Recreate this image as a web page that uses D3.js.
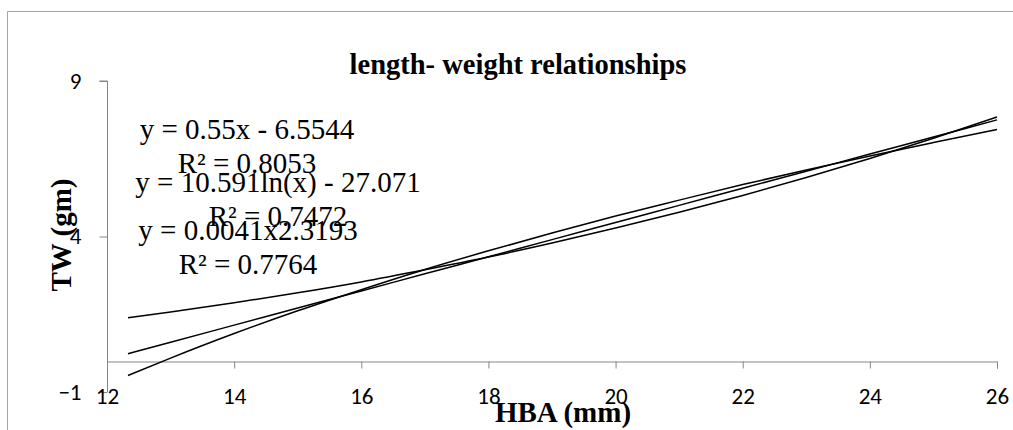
<!DOCTYPE html>
<html>
<head>
<meta charset="utf-8">
<script src="https://cdn.jsdelivr.net/npm/d3@7"></script>
<style>
  body { margin: 0; background: #fff; }
  svg { display: block; }
</style>
</head>
<body>
<div id="chart"></div>
<script>
// values
const xValues = [12.33, 13, 14, 15, 16, 17, 18, 19, 20, 21, 22, 23, 24, 25, 26];
const linearValues = [0.23, 0.60, 1.15, 1.70, 2.25, 2.80, 3.35, 3.90, 4.45, 5.00, 5.55, 6.10, 6.65, 7.20, 7.75];
const logValues = [-0.47, 0.09, 0.88, 1.61, 2.29, 2.94, 3.54, 4.11, 4.66, 5.17, 5.67, 6.14, 6.59, 7.02, 7.44];
const powerValues = [1.39, 1.57, 1.87, 2.19, 2.54, 2.93, 3.34, 3.79, 4.27, 4.78, 5.32, 5.90, 6.51, 7.16, 7.84];

const xTicks = [12, 14, 16, 18, 20, 22, 24, 26];
const yTicks = [-1, 4, 9];

const equationLines = [
  ['y = 0.55x - 6.5544', 'R² = 0.8053'],
  ['y = 10.591ln(x) - 27.071', 'R² = 0.7472'],
  ['y = 0.0041x2.3193', 'R² = 0.7764']
];

const titleText = 'length- weight relationships';
const xTitle = 'HBA (mm)';
const yTitle = 'TW (gm)';

// layout
const width = 1013, height = 430;
const plot = { left: 107, right: 997, top: 81, bottom: 392 };
const labelPos = [
  { x: 247, y: 139 },
  { x: 278, y: 192 },
  { x: 248, y: 240 }
];
const lineGap = 34;
const axisColor = '#868686';
const serif = "'Liberation Serif', 'Times New Roman', serif";
const sans = "Carlito, Calibri, Lato, 'Liberation Sans', sans-serif";

const svg = d3.select('#chart').append('svg')
  .attr('width', width)
  .attr('height', height);

svg.append('rect')
  .attr('width', width).attr('height', height)
  .attr('fill', '#fff');

// outer chart frame (only top and left edges are in view)
svg.append('path')
  .attr('d', 'M7.5,' + height + 'V11.5H' + width)
  .attr('fill', 'none')
  .attr('stroke', '#a6a6a6')
  .attr('stroke-width', 1);

const x = d3.scaleLinear().domain([12, 26]).range([plot.left, plot.right]);
const y = d3.scaleLinear().domain([-1, 9]).range([plot.bottom, plot.top]);

// y axis
const yAxis = svg.append('g')
  .attr('transform', 'translate(' + (x(12) + 0.5) + ',0)')
  .call(d3.axisLeft(y).tickValues(yTicks).tickSize(8).tickPadding(18).tickFormat(d3.format('d')));
yAxis.select('.domain').attr('stroke', axisColor).attr('d', 'M-8,' + y(9) + 'H0V' + y(-1));
yAxis.selectAll('.tick line').attr('stroke', axisColor);
yAxis.selectAll('.tick text')
  .attr('fill', '#000')
  .style('font-family', sans)
  .style('font-size', '23px');

// x axis crossing at y = 0
const xAxis = svg.append('g')
  .attr('transform', 'translate(0,' + (Math.round(y(0)) + 0.5) + ')')
  .call(d3.axisBottom(x).tickValues(xTicks).tickSize(7).tickSizeOuter(7).tickPadding(0).tickFormat(d3.format('d')));
xAxis.select('.domain').attr('stroke', axisColor);
xAxis.selectAll('.tick line').attr('stroke', axisColor);
xAxis.selectAll('.tick text')
  .attr('fill', '#000')
  .attr('dy', null)
  .attr('y', y(-1) - y(0) + 11)
  .style('font-family', sans)
  .style('font-size', '23px');

// trend lines
const line = d3.line()
  .x(d => x(d[0]))
  .y(d => y(d[1]))
  .curve(d3.curveMonotoneX);

[linearValues, logValues, powerValues].forEach(series => {
  svg.append('path')
    .datum(xValues.map((v, i) => [v, series[i]]))
    .attr('fill', 'none')
    .attr('stroke', '#000')
    .attr('stroke-width', 1.5)
    .attr('d', line);
});

// equation labels
equationLines.forEach((lines, i) => {
  lines.forEach((t, j) => {
    svg.append('text')
      .attr('x', labelPos[i].x)
      .attr('y', labelPos[i].y + j * lineGap)
      .attr('text-anchor', 'middle')
      .style('font-family', serif)
      .style('font-size', '29px')
      .text(t);
  });
});

// titles
svg.append('text')
  .attr('x', 518).attr('y', 74)
  .attr('text-anchor', 'middle')
  .style('font-family', serif)
  .style('font-weight', 'bold')
  .style('font-size', '28.5px')
  .text(titleText);

svg.append('text')
  .attr('x', 563).attr('y', 422)
  .attr('text-anchor', 'middle')
  .style('font-family', serif)
  .style('font-weight', 'bold')
  .style('font-size', '29px')
  .text(xTitle);

svg.append('text')
  .attr('transform', 'translate(71,235) rotate(-90)')
  .attr('text-anchor', 'middle')
  .style('font-family', serif)
  .style('font-weight', 'bold')
  .style('font-size', '29px')
  .text(yTitle);
</script>
</body>
</html>
